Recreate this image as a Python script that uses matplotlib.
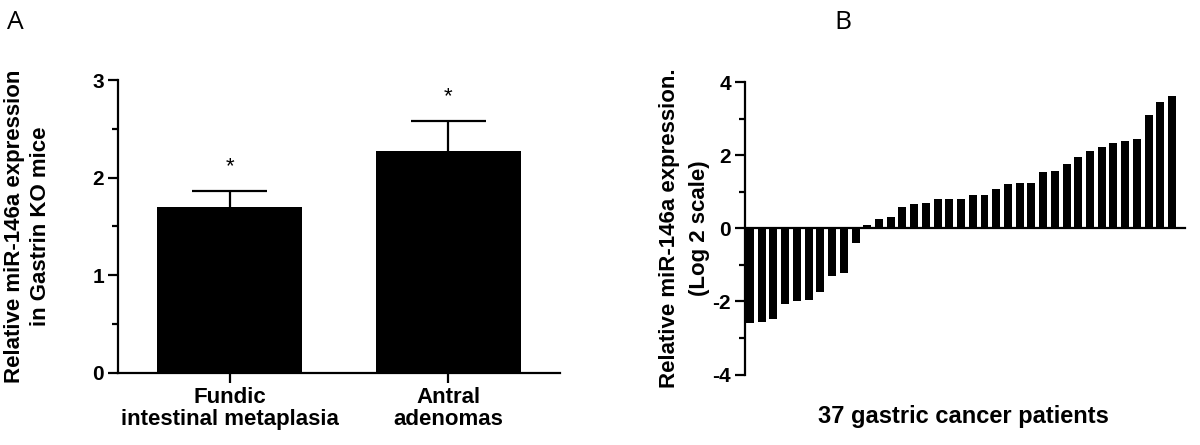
import matplotlib.pyplot as plt
from matplotlib.ticker import MultipleLocator

plt.rcParams['font.family'] = ['Liberation Sans', 'DejaVu Sans']
plt.rcParams['axes.unicode_minus'] = False

# panel A
groups = ["Fundic\nintestinal metaplasia", "Antral\nadenomas"]
means = [1.70, 2.27]
errs = [0.16, 0.31]

# panel B, sorted per patient
patients = [-2.60, -2.57, -2.49, -2.08, -1.99, -1.97, -1.75, -1.31, -1.23, -0.41,
            0.08, 0.26, 0.31, 0.58, 0.66, 0.68, 0.79, 0.79, 0.79, 0.90,
            0.91, 1.07, 1.22, 1.23, 1.25, 1.53, 1.56, 1.75, 1.94, 2.12,
            2.21, 2.33, 2.40, 2.44, 3.09, 3.44, 3.62]

LW = 1.6
FS = 16
fig = plt.figure(figsize=(12, 4.45), dpi=100)

def style(ax):
    for s in ["top", "right"]:
        ax.spines[s].set_visible(False)
    for s in ["left", "bottom"]:
        ax.spines[s].set_linewidth(LW)
    ax.tick_params(axis="y", which="major", length=7, width=LW, labelsize=15, pad=3)
    ax.tick_params(axis="y", which="minor", length=4, width=LW)
    for t in ax.get_yticklabels():
        t.set_fontweight("bold")

# ---- A ----
axA = fig.add_axes([0.0983, 0.1625, 0.3683, 0.6577])
xs = list(range(len(groups)))
axA.bar(xs, means, width=0.66, color="black", zorder=2)
tops = [m + e for m, e in zip(means, errs)]
axA.vlines(xs, means, tops, color="black", lw=LW)
axA.hlines(tops, [x - 0.17 for x in xs], [x + 0.17 for x in xs], color="black", lw=LW)
for x, t in zip(xs, tops):
    axA.text(x, t + 0.14, "*", ha="center", va="bottom", fontsize=16)
axA.set_xlim(-0.51, 1.51)
axA.set_ylim(0, 3)
axA.yaxis.set_major_locator(MultipleLocator(1))
axA.yaxis.set_minor_locator(MultipleLocator(0.5))
axA.set_xticks(xs)
axA.set_xticklabels(groups, fontsize=FS, fontweight="bold", linespacing=1.1)
axA.tick_params(axis="x", length=7, width=LW, pad=3)
style(axA)
axA.set_ylabel("Relative miR-146a expression\nin Gastrin KO mice", fontsize=FS,
               fontweight="bold", linespacing=1.3)
axA.yaxis.set_label_coords(-0.152, 0.5)

# ---- B ----
axB = fig.add_axes([0.6208, 0.1584, 0.3667, 0.6573])
axB.bar(range(len(patients)), patients, width=0.68, color="black")
axB.set_xlim(-0.43, 37.1)
axB.set_ylim(-4, 4)
axB.spines["bottom"].set_position(("data", 0))
axB.set_xticks([])
axB.yaxis.set_major_locator(MultipleLocator(2))
axB.yaxis.set_minor_locator(MultipleLocator(1))
style(axB)
axB.set_ylabel("Relative miR-146a expression.\n(Log 2 scale)", fontsize=FS,
               fontweight="bold", linespacing=1.55)
axB.yaxis.set_label_coords(-0.08, 0.5)
fig.text(0.803, 0.063, "37 gastric cancer patients", ha="center", va="center",
         fontsize=17, fontweight="bold")

fig.text(0.006, 0.95, "A", fontsize=19, va="center", family="Open Sans")
fig.text(0.695, 0.95, "B", fontsize=19, va="center", family="Open Sans")

fig.savefig("out.png", dpi=100, facecolor="white")
